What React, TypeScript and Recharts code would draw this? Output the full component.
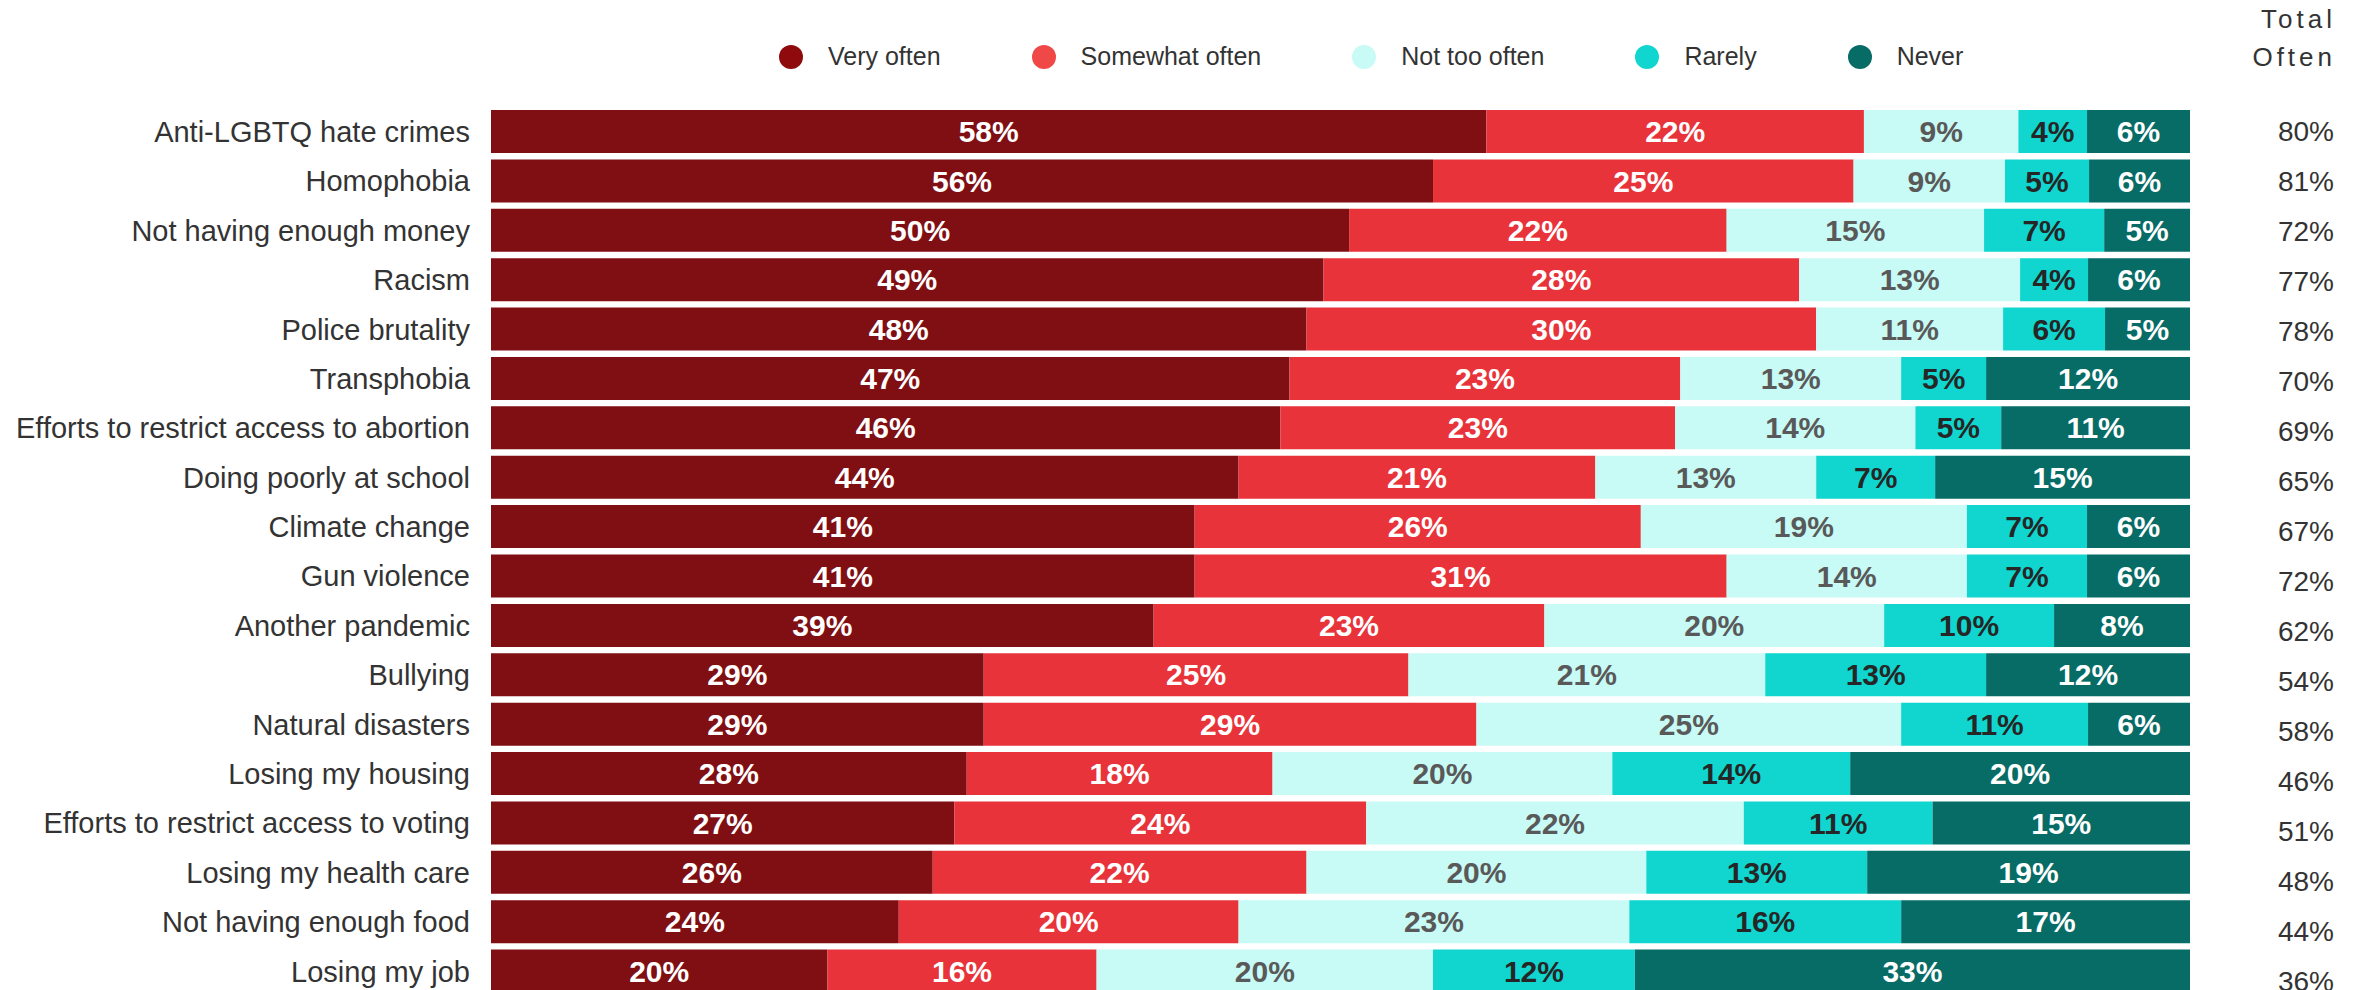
import { BarChart, Bar, XAxis, YAxis, LabelList } from "recharts"

// categories, top to bottom
const categories = [
  "Anti-LGBTQ hate crimes",
  "Homophobia",
  "Not having enough money",
  "Racism",
  "Police brutality",
  "Transphobia",
  "Efforts to restrict access to abortion",
  "Doing poorly at school",
  "Climate change",
  "Gun violence",
  "Another pandemic",
  "Bullying",
  "Natural disasters",
  "Losing my housing",
  "Efforts to restrict access to voting",
  "Losing my health care",
  "Not having enough food",
  "Losing my job",
]

const veryOften = [58, 56, 50, 49, 48, 47, 46, 44, 41, 41, 39, 29, 29, 28, 27, 26, 24, 20]
const somewhatOften = [22, 25, 22, 28, 30, 23, 23, 21, 26, 31, 23, 25, 29, 18, 24, 22, 20, 16]
const notTooOften = [9, 9, 15, 13, 11, 13, 14, 13, 19, 14, 20, 21, 25, 20, 22, 20, 23, 20]
const rarely = [4, 5, 7, 4, 6, 5, 5, 7, 7, 7, 10, 13, 11, 14, 11, 13, 16, 12]
const never = [6, 6, 5, 6, 5, 12, 11, 15, 6, 6, 8, 12, 6, 20, 15, 19, 17, 33]
const totalOften = [80, 81, 72, 77, 78, 70, 69, 65, 67, 72, 62, 54, 58, 46, 51, 48, 44, 36]

const seriesKeys = ["veryOften", "somewhatOften", "notTooOften", "rarely", "never"]
const seriesNames = ["Very often", "Somewhat often", "Not too often", "Rarely", "Never"]
const seriesColors = ["#7f0f13", "#e8333a", "#c8faf6", "#10d6cf", "#076b66"]
const legendColors = ["#8e0a0c", "#f04747", "#c8faf6", "#10d6cf", "#076b66"]
const labelColors = ["#ffffff", "#ffffff", "#595959", "#262626", "#ffffff"]

const data = categories.map((name, i) => ({
  name,
  veryOften: veryOften[i],
  somewhatOften: somewhatOften[i],
  notTooOften: notTooOften[i],
  rarely: rarely[i],
  never: never[i],
  total: totalOften[i],
}))

const FONT = "'Liberation Sans', Arial, sans-serif"

// the total column sits on a slightly looser pitch than the bars
const TotalLabel = (props: any) => {
  const { x, y, width, height, value, index } = props
  return (
    <text
      x={x + width + 144}
      y={y + height / 2 + (index || 0) * 0.6}
      textAnchor="end"
      dominantBaseline="central"
      fontSize={28}
      fontFamily={FONT}
      fill="#333333"
    >
      {value}%
    </text>
  )
}

export default function App() {
  return (
    <div style={{ position: "absolute", left: 0, top: 0, width: 2364, height: 996, fontFamily: FONT, background: "#fff" }}>
      {/* legend */}
      <div style={{ position: "absolute", left: 779, top: 42, display: "flex", alignItems: "center" }}>
        {seriesNames.map((n, i) => (
          <div key={n} style={{ display: "flex", alignItems: "center", marginRight: 91 }}>
            <span style={{ width: 24, height: 24, borderRadius: 12, background: legendColors[i], display: "inline-block" }} />
            <span style={{ marginLeft: 25, fontSize: 25, color: "#333" }}>{n}</span>
          </div>
        ))}
      </div>
      {/* right column header */}
      <div style={{ position: "absolute", right: 28, top: 0, textAlign: "right", fontSize: 26, letterSpacing: 4, lineHeight: "38px", color: "#333" }}>
        <div>Total</div>
        <div>Often</div>
      </div>
      <BarChart
        width={2364}
        height={996}
        data={data}
        layout="vertical"
        stackOffset="expand"
        margin={{ top: 107, right: 174, left: 11, bottom: 0 }}
        barSize={43}
      >
        <XAxis type="number" domain={[0, 1]} hide />
        <YAxis
          type="category"
          dataKey="name"
          width={480}
          interval={0}
          tickLine={false}
          axisLine={false}
          tickSize={0}
          tickMargin={21}
          tick={{ fontSize: 29, fill: "#333333", fontFamily: FONT }}
        />
        {seriesKeys.map((k, i) => (
          <Bar key={k} dataKey={k} name={seriesNames[i]} stackId="a" fill={seriesColors[i]} isAnimationActive={false}>
            <LabelList
              dataKey={k}
              position="center"
              formatter={(v: any) => `${v}%`}
              fill={labelColors[i]}
              fontSize={30}
              fontWeight="bold"
              fontFamily={FONT}
            />
            {k === "never" && <LabelList dataKey="total" content={<TotalLabel />} />}
          </Bar>
        ))}
      </BarChart>
    </div>
  )
}
